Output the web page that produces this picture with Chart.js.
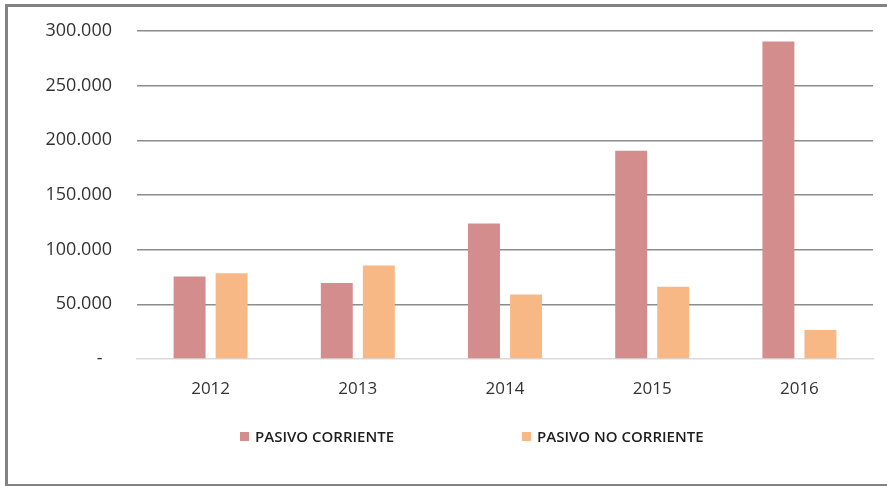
<!DOCTYPE html>
<html>
<head>
<meta charset="utf-8">
<script src="https://cdn.jsdelivr.net/npm/chart.js@4/dist/chart.umd.min.js"></script>
<style>
  html, body { margin: 0; padding: 0; background: #fff; }
  #wrap { position: relative; width: 887px; height: 486px; overflow: hidden; }
  #frame {
    position: absolute; left: 5px; top: 4px; width: 900px; height: 477px;
    border-top: 3px solid #828282; border-left: 3px solid #828282; border-bottom: 3px solid #828282;
  }
  #chart { position: absolute; left: 0; top: 0; }
  #legend {
    position: absolute; left: 240px; top: 426px; display: flex; gap: 128px;
    font-family: "Open Sans", sans-serif; font-size: 15px; font-weight: 600; color: #1e1e1e;
  }
  #legend .item { display: flex; align-items: center; white-space: nowrap; }
  #legend .box { width: 9px; height: 9px; margin-right: 6px; }
</style>
</head>
<body>
<div id="wrap">
  <div id="frame"></div>
  <canvas id="chart" width="887" height="486"></canvas>
  <div id="legend"></div>
</div>
<script>
const years = ['2012', '2013', '2014', '2015', '2016'];
const pasivoCorriente = [75500, 69500, 124000, 190500, 290500];
const pasivoNoCorriente = [78500, 85500, 59000, 66000, 26500];
const seriesNames = ['PASIVO CORRIENTE', 'PASIVO NO CORRIENTE'];
const seriesColors = ['#d38d8d', '#f8b886'];

const fmt = v => v === 0 ? '-  ' : String(v).replace(/\B(?=(\d{3})+(?!\d))/g, '.');

const chart = new Chart(document.getElementById('chart'), {
  type: 'bar',
  data: {
    labels: years,
    datasets: [
      { label: seriesNames[0], data: pasivoCorriente, backgroundColor: seriesColors[0] },
      { label: seriesNames[1], data: pasivoNoCorriente, backgroundColor: seriesColors[1] }
    ]
  },
  options: {
    responsive: false,
    animation: false,
    categoryPercentage: 0.571,
    barPercentage: 0.76,
    layout: { padding: { left: 0, top: 31, right: 14, bottom: 0 } },
    plugins: { legend: { display: false }, tooltip: { enabled: false } },
    scales: {
      x: {
        grid: { display: false, drawTicks: false },
        border: { display: true, color: '#d9d9d9', width: 1.5 },
        ticks: { color: '#333', padding: 20, font: { family: 'Open Sans', size: 17 } },
        afterFit: s => { s.height = 127; }
      },
      y: {
        min: 0,
        max: 300000,
        ticks: {
          stepSize: 50000, color: '#333', padding: 4,
          font: { family: 'Open Sans', size: 18 },
          callback: v => fmt(v)
        },
        grid: {
          color: ctx => ctx.tick && ctx.tick.value === 0 ? 'rgba(0,0,0,0)' : '#8c8c8c',
          lineWidth: 1.5, drawTicks: true, tickLength: 21, tickColor: 'rgba(0,0,0,0)'
        },
        border: { display: false },
        afterFit: s => { s.width = 137; }
      }
    }
  }
});

const legend = document.getElementById('legend');
chart.data.datasets.forEach(ds => {
  const item = document.createElement('div');
  item.className = 'item';
  const box = document.createElement('span');
  box.className = 'box';
  box.style.background = ds.backgroundColor;
  const text = document.createElement('span');
  text.textContent = ds.label;
  item.appendChild(box);
  item.appendChild(text);
  legend.appendChild(item);
});
</script>
</body>
</html>
